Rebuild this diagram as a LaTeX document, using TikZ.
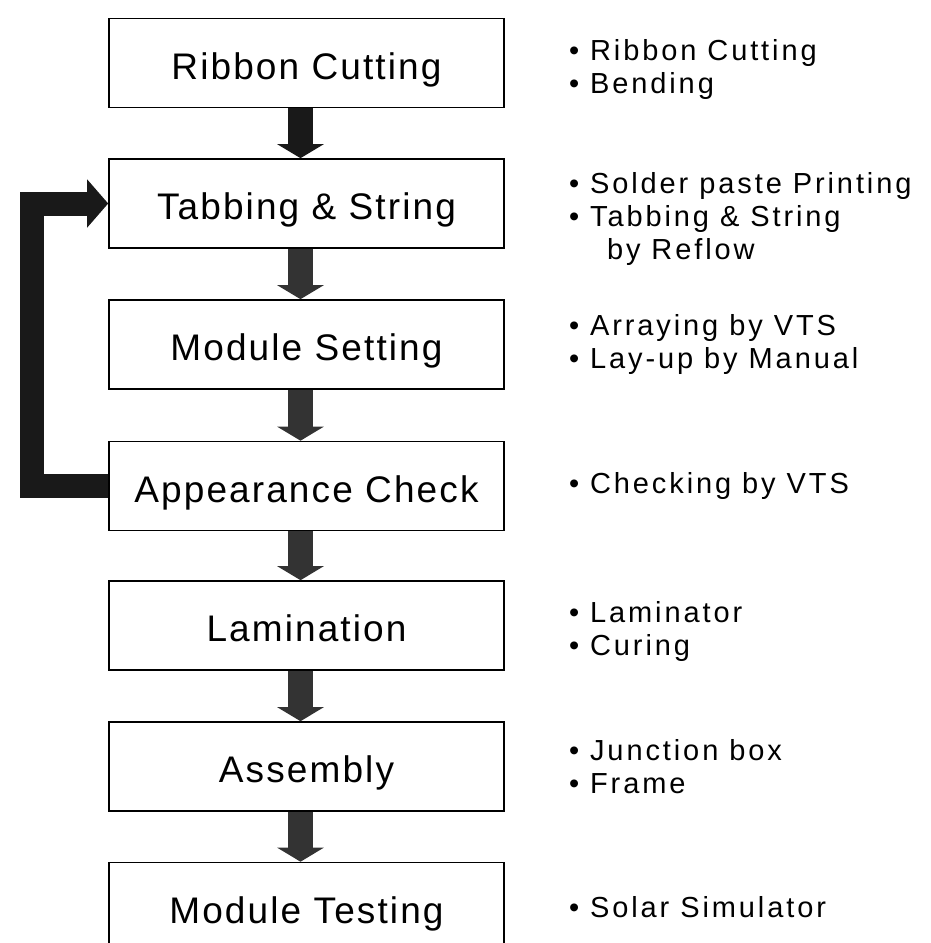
\documentclass[tikz,border=0pt]{standalone}
\usepackage{fontspec}
\setmainfont{Liberation Sans}
\newfontfamily\stepfont[LetterSpace=5.7]{Liberation Sans}
\newfontfamily\notefont[LetterSpace=10]{Liberation Sans}
\usetikzlibrary{positioning, arrows.meta}

\tikzset{
	stepbox/.style={
			shape=rectangle,
			draw=black,
			line width=1.6pt,
			fill=white,
			minimum width=395pt,
			minimum height=89pt,
			text height=34pt,
			text depth=2pt,
			inner sep=0pt,
			font=\stepfont\fontsize{37}{44}\selectfont
		},
	notenode/.style={
			align=left,
			inner sep=0pt,
			font=\notefont\fontsize{29}{33}\selectfont
		},
	flowarrow/.style={
			draw=black!80,
			line width=25pt,
			-{Triangle[width=46pt,length=14pt]}
		},
	loopback/.style={
			draw=black!90,
			line width=24pt,
			-{Triangle[width=47pt,length=21pt]}
		}
}

\begin{document}
\begin{tikzpicture}[x=1pt, y=-1pt]

  \useasboundingbox (0,0) rectangle (931,943);

  % process steps
  \node[stepbox] (rc) at (306.5,63) {Ribbon Cutting};
  \node[stepbox] (ts) at (306.5,203.5) {Tabbing \& String};
  \node[stepbox] (ms) at (306.5,344.5) {Module Setting};
  \node[stepbox] (ac) at (306.5,486) {Appearance Check};
  \node[stepbox] (lm) at (306.5,625.5) {Lamination};
  \node[stepbox] (as) at (306.5,766.5) {Assembly};
  \node[stepbox] (mt) at (306.5,907) {Module Testing};

  % notes next to each step
  \node[notenode, right=64pt of rc, yshift=-6pt] (rcnote) {• Ribbon Cutting\\• Bending};
  \node[notenode, right=64pt of ts, yshift=-15pt] (tsnote) {• Solder paste Printing\\• Tabbing \& String\\\hspace*{38pt}by Reflow};
  \node[notenode, right=64pt of ms] (msnote) {• Arraying by VTS\\• Lay-up by Manual};
  \node[notenode, right=64pt of ac] (acnote) {• Checking by VTS};
  \node[notenode, right=64pt of lm, yshift=-6pt] (lmnote) {• Laminator\\• Curing};
  \node[notenode, right=64pt of as] (asnote) {• Junction box\\• Frame};
  \node[notenode, right=64pt of mt] (mtnote) {• Solar Simulator};

  % flow between steps
  \draw[flowarrow, draw=black!90] ([xshift=-6pt]rc.south) -- ([xshift=-6pt]ts.north);
  \draw[flowarrow] ([xshift=-6pt]ts.south) -- ([xshift=-6pt]ms.north);
  \draw[flowarrow] ([xshift=-6pt]ms.south) -- ([xshift=-6pt]ac.north);
  \draw[flowarrow] ([xshift=-6pt]ac.south) -- ([xshift=-6pt]lm.north);
  \draw[flowarrow] ([xshift=-6pt]lm.south) -- ([xshift=-6pt]as.north);
  \draw[flowarrow] ([xshift=-6pt]as.south) -- ([xshift=-6pt]mt.north);

  % rework loop
  \draw[loopback] (ac.west) -- ++(-76,0) |- (ts.west);

\end{tikzpicture}
\end{document}
